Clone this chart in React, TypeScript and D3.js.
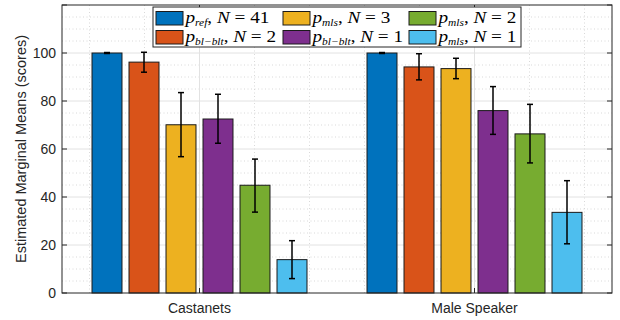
import React from 'react';
import * as d3 from 'd3';

const categories = ['Castanets', 'Male Speaker'];
const seriesKeys = ['ref41', 'blblt2', 'mls3', 'blblt1', 'mls2', 'mls1'];
const seriesColors = ['#0072BD', '#D95319', '#EDB120', '#7E2F8E', '#77AC30', '#4DBEEE'];

// legend text pieces: subscript and N
const legendSub = ['ref', 'bl\u2212blt', 'mls', 'bl\u2212blt', 'mls', 'mls'];
const legendN = ['41', '2', '3', '1', '2', '1'];

// means per category (same order as seriesKeys)
const castanetsMean = [100, 96.2, 70.1, 72.5, 44.9, 13.9];
const maleMean = [100, 94.2, 93.5, 76.0, 66.3, 33.6];
// confidence bounds
const castanetsLow = [99.8, 92.0, 56.8, 62.4, 33.7, 6.0];
const castanetsHigh = [100.2, 100.3, 83.5, 82.8, 55.8, 21.8];
const maleLow = [99.8, 88.8, 89.3, 66.1, 54.2, 20.5];
const maleHigh = [100.2, 99.7, 97.8, 86.0, 78.6, 46.8];

const yTicks = [0, 20, 40, 60, 80, 100];

const W = 620, H = 320;
const m = { left: 62, right: 8, top: 5, bottom: 27 };

export default function App() {
  const x = d3.scaleLinear().domain([0.5, 2.5]).range([m.left, W - m.right]);
  const y = d3.scaleLinear().domain([0, 120]).range([H - m.bottom, m.top]);

  const means = [castanetsMean, maleMean];
  const lows = [castanetsLow, maleLow];
  const highs = [castanetsHigh, maleHigh];

  const minorY = d3.range(5, 120, 5).filter(v => v % 20 !== 0);
  const majorY = d3.range(20, 120, 20);
  const minorX = d3.range(0.6, 2.45, 0.2).filter(v => Math.abs(v - 1) > 0.01 && Math.abs(v - 2) > 0.01);

  const x0 = m.left, x1 = W - m.right, y0 = H - m.bottom, y1 = m.top;
  const font = '"Liberation Sans", Arial, Helvetica, sans-serif';
  const serif = '"Liberation Serif", "Times New Roman", serif';

  const legendCols = [156, 283, 409];
  const legendRows = [11.5, 30.5];

  return (
    <div style={{ position: 'fixed', left: 0, top: 0 }}>
      <svg width={W} height={H} style={{ display: 'block', background: '#fff' }}>
        {/* grid */}
        <g>
          {minorY.map(v => (
            <line key={'my' + v} x1={x0} x2={x1} y1={y(v)} y2={y(v)} stroke="#cfcfcf" strokeWidth={0.8} strokeDasharray="1,2.5" />
          ))}
          {minorX.map(v => (
            <line key={'mx' + v} x1={x(v)} x2={x(v)} y1={y0} y2={y1} stroke="#cfcfcf" strokeWidth={0.8} strokeDasharray="1,2.5" />
          ))}
          {majorY.map(v => (
            <line key={'gy' + v} x1={x0} x2={x1} y1={y(v)} y2={y(v)} stroke="#e2e2e2" strokeWidth={1} />
          ))}
          {[1, 2].map(v => (
            <line key={'gx' + v} x1={x(v)} x2={x(v)} y1={y0} y2={y1} stroke="#e2e2e2" strokeWidth={1} />
          ))}
        </g>

        {/* bars */}
        {categories.map((c, ci) => {
          const cx = x(ci + 1);
          const band = d3.scaleBand<string>().domain(seriesKeys).range([cx - 111, cx + 111]).paddingInner(0.19).paddingOuter(0.095);
          return (
            <g key={c}>
              {seriesKeys.map((k, si) => (
                <rect key={k} x={band(k)} y={y(means[ci][si])} width={band.bandwidth()} height={y(0) - y(means[ci][si])}
                  fill={seriesColors[si]} stroke="#1a1a1a" strokeWidth={1} />
              ))}
              {seriesKeys.map((k, si) => {
                const bx = (band(k) as number) + band.bandwidth() / 2;
                const yl = y(lows[ci][si]), yh = y(highs[ci][si]);
                return (
                  <g key={'e' + k} stroke="#000" strokeWidth={1.5}>
                    <line x1={bx} x2={bx} y1={yl} y2={yh} />
                    <line x1={bx - 3} x2={bx + 3} y1={yl} y2={yl} />
                    <line x1={bx - 3} x2={bx + 3} y1={yh} y2={yh} />
                  </g>
                );
              })}
            </g>
          );
        })}

        {/* axes box and ticks */}
        <rect x={x0} y={y1} width={x1 - x0} height={y0 - y1} fill="none" stroke="#262626" strokeWidth={1} />
        {yTicks.concat([120]).map(v => (
          <g key={'t' + v} stroke="#262626">
            <line x1={x0} x2={x0 + 5} y1={y(v)} y2={y(v)} />
            <line x1={x1} x2={x1 - 5} y1={y(v)} y2={y(v)} />
          </g>
        ))}
        {[1, 2].map(v => (
          <g key={'xt' + v} stroke="#262626">
            <line x1={x(v)} x2={x(v)} y1={y0} y2={y0 - 5} />
            <line x1={x(v)} x2={x(v)} y1={y1} y2={y1 + 5} />
          </g>
        ))}
        {yTicks.map(v => (
          <text key={'yl' + v} x={x0 - 6} y={y(v)} dy="0.35em" textAnchor="end" fontFamily={font} fontSize={14} fill="#262626">{v}</text>
        ))}
        {categories.map((c, ci) => (
          <text key={'xl' + c} x={x(ci + 1)} y={y0 + 20} textAnchor="middle" fontFamily={font} fontSize={14} fill="#262626">{c}</text>
        ))}
        <text transform={`translate(26,${(y0 + y1) / 2}) rotate(-90)`} textAnchor="middle" fontFamily={font} fontSize={14.5} fill="#262626">
          Estimated Marginal Means (scores)
        </text>

        {/* legend */}
        <rect x={153} y={7} width={368} height={40} fill="#fff" stroke="#262626" strokeWidth={1} />
        {seriesKeys.map((k, si) => {
          const col = Math.floor(si / 2), row = si % 2;
          const lx = legendCols[col], ly = legendRows[row];
          return (
            <g key={'lg' + k}>
              <rect x={lx} y={ly} width={27} height={13.5} fill={seriesColors[si]} stroke="#1a1a1a" strokeWidth={1} />
              <text transform={`translate(${lx + 29.5},${ly + 11}) scale(1.2,1)`} fontFamily={serif} fontSize={16} fill="#000">
                <tspan fontStyle="italic">p</tspan>
                <tspan fontStyle="italic" fontSize={9.5} dy={3}>{legendSub[si]}</tspan>
                <tspan dy={-3}>, </tspan>
                <tspan fontStyle="italic">N</tspan>
                <tspan> = {legendN[si]}</tspan>
              </text>
            </g>
          );
        })}
      </svg>
    </div>
  );
}
